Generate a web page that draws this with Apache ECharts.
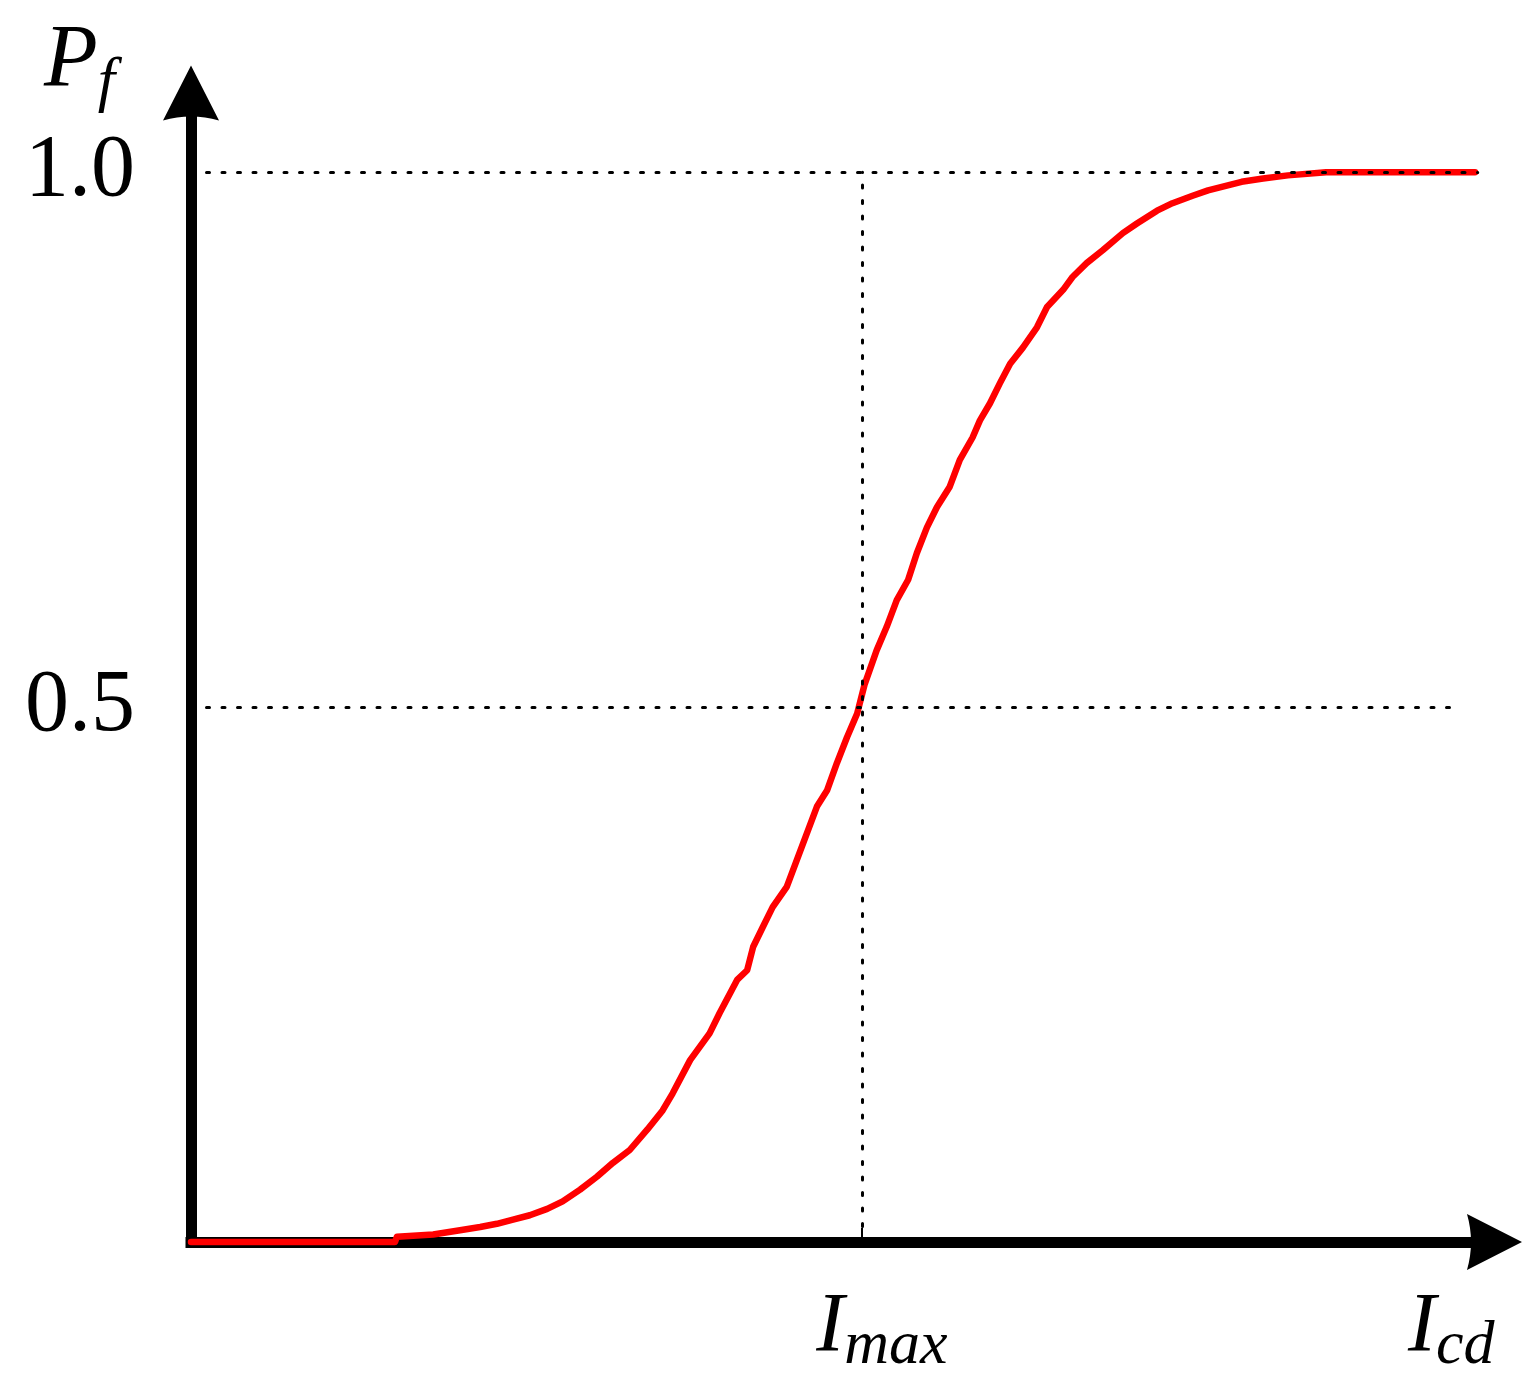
<!DOCTYPE html>
<html>
<head>
<meta charset="utf-8">
<script src="https://cdn.jsdelivr.net/npm/echarts@6/dist/echarts.min.js"></script>
<style>
html,body{margin:0;padding:0;background:#ffffff;}
#chart{width:1535px;height:1393px;}
</style>
</head>
<body>
<div id="chart"></div>
<script>
// Current, as a ratio of I_max (x) and failure probability P_f (y)
const currentRatio = [0, 0.304, 0.307, 0.361, 0.401, 0.431, 0.456, 0.480, 0.505, 0.531,
  0.554, 0.580, 0.605, 0.629, 0.654, 0.680, 0.703, 0.718, 0.744, 0.773,
  0.788, 0.814, 0.829, 0.838, 0.852, 0.867, 0.888, 0.903, 0.918, 0.933,
  0.948, 0.963, 0.978, 0.993, 1.004, 1.022, 1.037, 1.052, 1.069, 1.082,
  1.097, 1.112, 1.131, 1.146, 1.165, 1.176, 1.191, 1.206, 1.221, 1.240,
  1.261, 1.276, 1.300, 1.314, 1.335, 1.359, 1.389, 1.410, 1.440, 1.463,
  1.493, 1.516, 1.566, 1.598, 1.635, 1.692, 1.914];
const failureProb = [0, 0, 0.005, 0.007, 0.011, 0.014, 0.017, 0.021, 0.025, 0.031,
  0.038, 0.049, 0.061, 0.074, 0.086, 0.105, 0.123, 0.139, 0.170, 0.195,
  0.214, 0.245, 0.254, 0.276, 0.294, 0.313, 0.332, 0.357, 0.382, 0.407,
  0.422, 0.448, 0.472, 0.494, 0.521, 0.553, 0.575, 0.600, 0.619, 0.644,
  0.668, 0.687, 0.706, 0.731, 0.752, 0.768, 0.784, 0.803, 0.821, 0.836,
  0.855, 0.874, 0.890, 0.902, 0.915, 0.927, 0.943, 0.952, 0.964, 0.971,
  0.978, 0.983, 0.991, 0.994, 0.997, 1.000, 1.000];

// Tick values / labels
const yTickValues = [0.5, 1.0];
const xTickValues = [1];
const xTickLabelMain = 'I';
const xTickLabelSub = 'max';
const xAxisNameMain = 'I';
const xAxisNameSub = 'cd';
const yAxisNameMain = 'P';
const yAxisNameSub = 'f';

// Reference (dotted) guide lines: horizontal levels and where they end; vertical at I_max
const guideLevels = [1.0, 0.5];
const guideLevelEnds = [1.918, 1.879];
const guideVerticalX = 1;
const guideVerticalTop = 1.0;

const xMax = 1.943;
const yMax = 1.074;

const FONT = "'Liberation Serif', 'Times New Roman', serif";
const arrowPath = 'path://M28,0 L56,55 Q28,47 0,55 Z';

const pts = currentRatio.map((x, i) => [x, failureProb[i]]);

const markData = guideLevels.map((lv, i) => [{coord: [0, lv]}, {coord: [guideLevelEnds[i], lv]}]);
markData.push([{coord: [guideVerticalX, 0]}, {coord: [guideVerticalX, guideVerticalTop]}]);

const richLabel = {
  i: {fontFamily: FONT, fontStyle: 'italic', fontSize: 84, color: '#000'},
  s: {fontFamily: FONT, fontStyle: 'italic', fontSize: 62, color: '#000', padding: [36, 0, 0, 0]}
};
const richName = {
  i: {fontFamily: FONT, fontStyle: 'italic', fontSize: 88, color: '#000'},
  s: {fontFamily: FONT, fontStyle: 'italic', fontSize: 62, color: '#000', padding: [44, 0, 0, 0]}
};

const chart = echarts.init(document.getElementById('chart'), null, {renderer: 'canvas'});
chart.setOption({
  animation: false,
  backgroundColor: '#ffffff',
  textStyle: {fontFamily: FONT},
  grid: {left: 191, right: 40.5, top: 93, bottom: 151, containLabel: false},
  xAxis: {
    type: 'value', min: 0, max: xMax,
    name: '{i|' + xAxisNameMain + '}{s|' + xAxisNameSub + '}',
    nameLocation: 'end', nameGap: 0,
    nameTextStyle: {fontFamily: FONT, align: 'right', verticalAlign: 'top', padding: [38, 0, 0, 0], rich: richLabel},
    axisLine: {show: true, symbol: ['none', arrowPath], symbolSize: [56, 55],
      lineStyle: {color: '#000', width: 11, cap: 'square'}},
    axisTick: {show: true, inside: true, length: 14, customValues: xTickValues,
      lineStyle: {color: '#000', width: 2}},
    axisLabel: {show: true, customValues: xTickValues, margin: 38, fontFamily: FONT,
      formatter: () => '{i|' + xTickLabelMain + '}{s|' + xTickLabelSub + '}',
      rich: richLabel, padding: [0, 0, 0, 40]},
    splitLine: {show: false}
  },
  yAxis: {
    type: 'value', min: 0, max: yMax,
    name: '{i|' + yAxisNameMain + '}{s|' + yAxisNameSub + '}',
    nameLocation: 'end', nameGap: -22,
    nameTextStyle: {fontFamily: FONT, align: 'right', verticalAlign: 'bottom', padding: [0, 76, 0, 0], rich: richName},
    axisLine: {show: true, symbol: ['none', arrowPath], symbolSize: [56, 55],
      lineStyle: {color: '#000', width: 11, cap: 'square'}},
    axisTick: {show: false},
    axisLabel: {show: true, customValues: yTickValues, margin: 56,
      formatter: v => Number(v).toFixed(1),
      fontFamily: FONT, fontSize: 88, color: '#000', padding: [0, 0, 10, 0]},
    splitLine: {show: false}
  },
  series: [
    {
      type: 'line', data: [], z: 1, silent: true,
      markLine: {
        silent: true, symbol: ['none', 'none'], label: {show: false},
        lineStyle: {color: '#000', width: 3, type: [3, 12.5], cap: 'round'},
        data: markData
      }
    },
    {
      type: 'line', data: pts, z: 3, showSymbol: false, smooth: false, clip: false,
      lineStyle: {color: '#ff0000', width: 6.5, cap: 'round', join: 'round'}
    }
  ]
});
</script>
</body>
</html>
